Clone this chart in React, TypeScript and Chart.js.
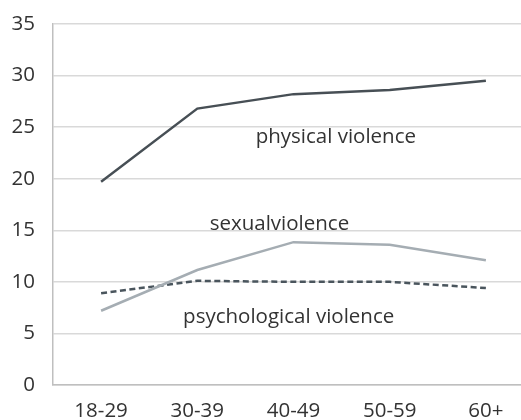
import React, { useEffect, useRef } from "react";
import { Chart, registerables } from "chart.js";

Chart.register(...registerables);

const categories = ["18-29", "30-39", "40-49", "50-59", "60+"];
const physical = [19.7, 26.8, 28.2, 28.6, 29.5];
const sexual = [7.2, 11.15, 13.85, 13.6, 12.1];
const psychological = [8.9, 10.1, 10.0, 10.0, 9.4];
const yTicks = [0, 5, 10, 15, 20, 25, 30, 35];

const seriesLabels = [
  { text: "physical violence", x: 2.44, y: 23.46 },
  { text: "sexualviolence", x: 1.854, y: 15.03 },
  { text: "psychological violence", x: 1.95, y: 6.01 },
];

const FONT = "'Open Sans', 'Noto Sans', sans-serif";
const FONT_SIZE = 20.5;

export default function App() {
  const ref = useRef<HTMLCanvasElement | null>(null);

  useEffect(() => {
    document.body.style.margin = "0";
    const canvas = ref.current;
    if (!canvas) return;
    const labelPlugin = {
      id: "seriesLabels",
      afterDatasetsDraw(chart: any) {
        const { ctx, scales } = chart;
        ctx.save();
        ctx.font = `${FONT_SIZE}px ${FONT}`;
        ctx.fillStyle = "#333333";
        ctx.textAlign = "center";
        ctx.textBaseline = "alphabetic";
        for (const l of seriesLabels) {
          ctx.fillText(l.text, scales.x.getPixelForValue(l.x), scales.y.getPixelForValue(l.y));
        }
        ctx.restore();
      },
    };
    const toPts = (arr: number[]) => arr.map((v, i) => ({ x: i, y: v }));
    const chart = new Chart(canvas, {
      type: "line",
      data: {
        datasets: [
          {
            label: "physical violence",
            data: toPts(physical),
            borderColor: "#474f55",
            borderWidth: 2.5,
            pointRadius: 0,
            tension: 0,
          },
          {
            label: "sexual violence",
            data: toPts(sexual),
            borderColor: "#a5adb3",
            borderWidth: 2.5,
            pointRadius: 0,
            tension: 0,
          },
          {
            label: "psychological violence",
            data: toPts(psychological),
            borderColor: "#4a555d",
            borderWidth: 2.5,
            borderDash: [6, 3.5],
            pointRadius: 0,
            tension: 0,
          },
        ],
      },
      options: {
        responsive: false,
        animation: false,
        layout: { padding: { top: 24, right: 0, bottom: 0, left: 0 } },
        plugins: {
          legend: { display: false },
          tooltip: { enabled: false },
        },
        scales: {
          x: {
            type: "linear",
            min: -0.5,
            max: 4.365,
            afterBuildTicks: (scale: any) => {
              scale.ticks = categories.map((_, i) => ({ value: i }));
            },
            afterFit: (scale: any) => {
              scale.height = 35;
              scale.paddingLeft = 0;
              scale.paddingRight = 0;
            },
            ticks: {
              callback: (v: any) => categories[v] ?? "",
              font: { size: FONT_SIZE, family: FONT },
              color: "#333333",
              padding: 14,
              maxRotation: 0,
            },
            grid: { display: false, drawTicks: false },
            border: { display: true, color: "#bfbfbf", width: 1.5 },
          },
          y: {
            min: 0,
            max: 35,
            afterBuildTicks: (scale: any) => {
              scale.ticks = yTicks.map((v) => ({ value: v }));
            },
            afterFit: (scale: any) => {
              scale.width = 53;
              scale.paddingTop = 0;
              scale.paddingBottom = 0;
            },
            ticks: {
              font: { size: FONT_SIZE, family: FONT },
              color: "#333333",
              padding: 18,
            },
            grid: { color: "#d9d9d9", lineWidth: 1.5, drawTicks: false },
            border: { display: true, color: "#bfbfbf", width: 1.5 },
          },
        },
      },
      plugins: [labelPlugin],
    });
    return () => chart.destroy();
  }, []);

  return <canvas ref={ref} width={521} height={420} style={{ display: "block" }} />;
}
